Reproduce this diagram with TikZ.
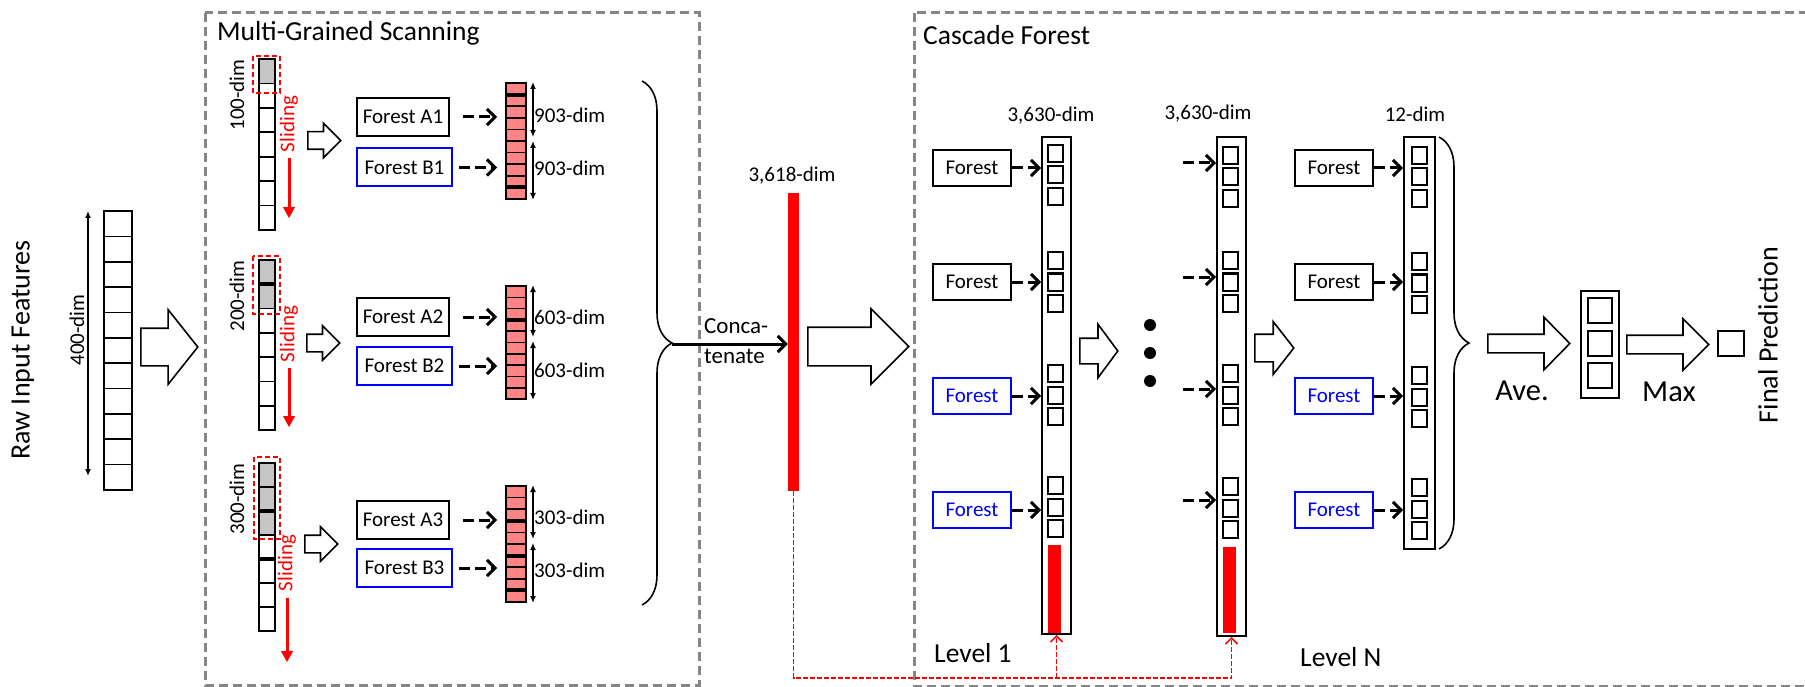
\documentclass[tikz,border=0pt]{standalone}
\usepackage{fontspec}
\setmainfont{Carlito}
\usetikzlibrary{positioning,arrows.meta,shapes.arrows,decorations.pathreplacing,calc}
\definecolor{framegray}{HTML}{858585}
\definecolor{cellgray}{HTML}{C6C6C6}
\definecolor{outpink}{HTML}{FF8585}
\definecolor{forestblue}{HTML}{0000FF}
\newcommand{\fsz}[2]{\fontsize{#1}{#2}\selectfont}
\tikzset{
  scanframe/.style={draw=framegray,line width=3pt,dash pattern=on 9pt off 5pt},
  ttl/.style      ={font=\fsz{27.5}{33},inner sep=0pt},
  lbl/.style      ={font=\fsz{21}{25},inner sep=0pt},
  vlbl/.style     ={lbl,rotate=90},
  forA/.style     ={draw,line width=2pt,minimum width=92pt,minimum height=38pt,inner sep=0pt,font=\fsz{21}{25}},
  forB/.style     ={forA,draw=forestblue,minimum width=95pt},
  forC/.style     ={forA,minimum width=78pt,minimum height=36pt},
  forD/.style     ={forC,draw=forestblue,text=forestblue},
  vec/.style      ={draw,line width=2pt,inner sep=0pt},
  cellbox/.style  ={draw,line width=1.6pt},
  thk/.style      ={draw,line width=4pt},
  window/.style   ={draw=red,line width=1.5pt,dash pattern=on 5pt off 3pt},
  slide/.style    ={red,line width=3pt,-{Triangle[length=11pt,width=11pt]}},
  darr/.style     ={line width=3pt,dash pattern=on 11pt off 5pt,-{Straight Barb[length=8pt,width=16pt]}},
  dimarr/.style   ={line width=1.4pt,{Latex[length=7pt,width=6pt]}-{Latex[length=7pt,width=6pt]}},
  fatarr/.style n args={4}{shape=single arrow,draw,line width=1.6pt,inner xsep=0pt,inner ysep=#2,
                   single arrow head extend=#3,single arrow tip angle=#4,minimum height=#1,anchor=tail},
  sqcell/.style   ={draw,line width=2pt,minimum width=15pt,minimum height=17pt,inner sep=0pt},
  ellip/.style    ={circle,fill,inner sep=0pt,minimum size=12pt},
  fback/.style    ={red,line width=1.5pt,dash pattern=on 5pt off 2pt},
  brc/.style      ={decorate,decoration={brace,amplitude=30pt},line width=1.6pt},
}

\begin{document}
\begin{tikzpicture}[x=1pt,y=-1pt]
  \useasboundingbox (0,0) rectangle (1805,687);

  % raw input
  \node[ttl,rotate=90,font=\fsz{28}{33}] (rawlbl) at (23,350) {Raw Input Features};
  \node[vec,minimum width=28pt,minimum height=279pt] (raw) at (118,350.5) {};
  \foreach \k in {1,...,10} \draw[cellbox] (104,{211+25.36*\k}) -- (132,{211+25.36*\k});
  \draw[dimarr] ([xshift=-15pt,yshift=-1pt]raw.north west) -- ([xshift=-15pt,yshift=15pt]raw.south west);
  \node[vlbl] (rawdim) at (77,330) {400-dim};
  \node[fatarr={57pt}{18pt}{18.5pt}{103}] (in2ms) at (140,347) {};

  % multi-grained scanning
  \draw[scanframe] (205,13) rectangle (699,685);
  \node[ttl,anchor=west] (mstitle) at (217,33) {Multi-Grained Scanning};

  \fill[cellgray] (259,59) rectangle (275,83.4);
  \node[vec,minimum width=16pt,minimum height=171pt] (s1) at (267,144.5) {};
  \foreach \k in {1,...,6} \draw[cellbox] (259,{59+24.43*\k}) -- (275,{59+24.43*\k});
  \draw[window] (253,56) rectangle (280,93);

  \fill[cellgray] (259,260) rectangle (275,308.6);
  \node[vec,minimum width=16pt,minimum height=170pt] (s2) at (267,345) {};
  \foreach \k in {1,...,6} \draw[cellbox] (259,{260+24.29*\k}) -- (275,{260+24.29*\k});
  \draw[thk] (259,284.3) -- (275,284.3);
  \draw[window] (253,256) rectangle (280,314);

  \fill[cellgray] (259,463) rectangle (275,535);
  \node[vec,minimum width=16pt,minimum height=168pt] (s3) at (267,547) {};
  \foreach \k in {1,...,6} \draw[cellbox] (259,{463+24*\k}) -- (275,{463+24*\k});
  \draw[thk] (259,511) -- (275,511);
  \draw[thk] (259,559) -- (275,559);
  \draw[window] (254,457) rectangle (280,539);

  \node[vlbl] (w1) at (237,95) {100-dim};
  \node[vlbl] (w2) at (237,296) {200-dim};
  \node[vlbl] (w3) at (237,499) {300-dim};
  \node[vlbl,text=red] (sl1) at (289,124) {Sliding};
  \node[vlbl,text=red] (sl2) at (289,334) {Sliding};
  \node[vlbl,text=red] (sl3) at (287,563) {Sliding};
  \draw[slide] ([yshift=-6pt]sl1.west) -- ++(0,60);
  \draw[slide] ([yshift=-6pt]sl2.west) -- ++(0,59);
  \draw[slide] ([yshift=-7pt]sl3.west) -- ++(0,64);

  \node[fatarr={33pt}{8pt}{8.5pt}{90}] (sa1) at (307,140.5) {};
  \node[fatarr={33pt}{8pt}{8.5pt}{90}] (sa2) at (306,343) {};
  \node[fatarr={33pt}{8pt}{8.5pt}{90}] (sa3) at (304,544) {};

  \node[forA] (fa1) at (403,117)   {Forest A1};
  \node[forB] (fb1) at (404.5,167.5) {Forest B1};
  \node[forA] (fa2) at (403,317)   {Forest A2};
  \node[forB] (fb2) at (404.5,366) {Forest B2};
  \node[forA] (fa3) at (403,520)   {Forest A3};
  \node[forB] (fb3) at (404.5,568) {Forest B3};

  \node[vec,fill=outpink,minimum width=20pt,minimum height=116pt] (o1) at (516,141) {};
  \foreach \k in {1,...,9} \draw[cellbox] (506,{83+11.6*\k}) -- (526,{83+11.6*\k});
  \foreach \k in {1,9} \draw[thk] (506,{83+11.6*\k}) -- (526,{83+11.6*\k});
  \node[vec,fill=outpink,minimum width=20pt,minimum height=113pt] (o2) at (516,342.5) {};
  \foreach \k in {1,...,9} \draw[cellbox] (506,{286+11.3*\k}) -- (526,{286+11.3*\k});
  \draw[thk] (506,{286+11.3*3}) -- (526,{286+11.3*3});
  \node[vec,fill=outpink,minimum width=20pt,minimum height=116pt] (o3) at (516,544) {};
  \foreach \k in {1,...,9} \draw[cellbox] (506,{486+11.6*\k}) -- (526,{486+11.6*\k});
  \foreach \k in {3,6,9} \draw[thk] (506,{486+11.6*\k}) -- (526,{486+11.6*\k});

  \draw[darr,shorten <=13pt,shorten >=8pt] (fa1.east) -- (fa1.east -| o1.west);
  \draw[darr,shorten <=6pt,shorten >=8pt]  (fb1.east) -- (fb1.east -| o1.west);
  \draw[darr,shorten <=13pt,shorten >=8pt] (fa2.east) -- (fa2.east -| o2.west);
  \draw[darr,shorten <=6pt,shorten >=8pt]  (fb2.east) -- (fb2.east -| o2.west);
  \draw[darr,shorten <=13pt,shorten >=8pt] (fa3.east) -- (fa3.east -| o3.west);
  \draw[darr,shorten <=6pt,shorten >=8pt]  (fb3.east) -- (fb3.east -| o3.west);

  \draw[dimarr] ([xshift=6pt]o1.north east) -- ([xshift=6pt,yshift=-55pt]o1.north east);
  \draw[dimarr] ([xshift=6pt,yshift=-59pt]o1.north east) -- ([xshift=6pt]o1.south east);
  \draw[dimarr] ([xshift=6pt]o2.north east) -- ([xshift=6pt,yshift=-52pt]o2.north east);
  \draw[dimarr] ([xshift=6pt,yshift=-56pt]o2.north east) -- ([xshift=6pt]o2.south east);
  \draw[dimarr] ([xshift=6pt]o3.north east) -- ([xshift=6pt,yshift=-54pt]o3.north east);
  \draw[dimarr] ([xshift=6pt,yshift=-58pt]o3.north east) -- ([xshift=6pt]o3.south east);
  \node[lbl,anchor=west] (d1a) at (534,115) {903-dim};
  \node[lbl,anchor=west] (d1b) at (534,168) {903-dim};
  \node[lbl,anchor=west] (d2a) at (534,317) {603-dim};
  \node[lbl,anchor=west] (d2b) at (534,370) {603-dim};
  \node[lbl,anchor=west] (d3a) at (534,517) {303-dim};
  \node[lbl,anchor=west] (d3b) at (534,570) {303-dim};

  % concatenation
  \draw[brc] (642,81) -- (642,605);
  \coordinate (msout) at (672,344);
  \node[fill=red,minimum width=11pt,minimum height=298pt,inner sep=0pt] (cat) at (793.5,342) {};
  \node[lbl] (catdim) at (792,176) {3,618-dim};
  \draw[line width=3pt,-{Straight Barb[length=8pt,width=16pt]}] (msout) -- (msout -| cat.west);
  \node[font=\fsz{23}{30},align=left,anchor=west,inner sep=0pt] (catlbl) at (704,341) {Conca-\\tenate};
  \node[fatarr={101pt}{18.5pt}{18.5pt}{90}] (cat2cf) at (807,346.5) {};

  % cascade forest
  \draw[scanframe] (914,13) rectangle (1815,686);
  \node[ttl,anchor=west] (cftitle) at (923,35) {Cascade Forest};

  \node[fill=red,minimum width=13pt,minimum height=88pt,inner sep=0pt] (r1) at (1054.5,589) {};
  \node[vec,minimum width=29pt,minimum height=497pt] (lv1) at (1056.5,385.5) {};
  \foreach \g in {145,252,365,477} \foreach \j in {0,1,2}
    \node[sqcell] (a\g\j) at (1055,{\g+8.5+21.5*\j}) {};
  \node[lbl] (lv1dim) at (1051,116) {3,630-dim};

  \node[forC] (c11) at (972,168) {Forest};
  \node[forC] (c12) at (972,282) {Forest};
  \node[forD] (c13) at (972,396) {Forest};
  \node[forD] (c14) at (972,510) {Forest};
  \foreach \n in {c11,c12,c13,c14} \draw[darr] (\n.east) -- (\n.east -| lv1.west);

  \node[fatarr={38pt}{12pt}{14pt}{107}] (lv1a) at (1079,351) {};
  \node[ellip] (e1) at (1150,325) {};
  \node[ellip] (e2) at (1150,353) {};
  \node[ellip] (e3) at (1150,381) {};

  \node[fill=red,minimum width=13pt,minimum height=86pt,inner sep=0pt] (rN) at (1229.5,590) {};
  \node[vec,minimum width=29pt,minimum height=499pt] (lvN) at (1231.5,386.5) {};
  \foreach \g in {147,252,365,478} \foreach \j in {0,1,2}
    \node[sqcell] (b\g\j) at (1230,{\g+8.5+21.5*\j}) {};
  \node[lbl] (lvNdim) at (1208,114) {3,630-dim};
  \foreach \y [count=\i] in {163,277,389,500} {
    \coordinate (inN\i) at (1183,\y);
    \draw[darr] (inN\i) -- (inN\i -| lvN.west);
  }

  \node[fatarr={39pt}{13pt}{12.5pt}{104}] (lvNa) at (1254,348) {};

  \node[forC] (c31) at (1334,168) {Forest};
  \node[forC] (c32) at (1334,282) {Forest};
  \node[forD] (c33) at (1334,396) {Forest};
  \node[forD] (c34) at (1334,510) {Forest};
  \node[vec,minimum width=31pt,minimum height=412pt] (lvo) at (1419.5,343) {};
  \foreach \g in {147,253,367,479} \foreach \j in {0,1,2}
    \node[sqcell] (o\g\j) at (1419.5,{\g+8.5+21.5*\j}) {};
  \node[lbl] (lvodim) at (1415,114) {12-dim};
  \foreach \n in {c31,c32,c33,c34} \draw[darr] (\n.east) -- (\n.east -| lvo.west);

  \node[ttl,anchor=west] (lvl1) at (934,653) {Level 1};
  \node[ttl,anchor=west] (lvlN) at (1300,657) {Level N};

  % feedback of the concatenated vector
  \coordinate (fb) at (0,678);
  \draw[fback,-{Straight Barb[length=6pt,width=12pt]}] (cat.south) |- (lvN.south |- fb) -- (lvN.south);
  \draw[fback,-{Straight Barb[length=6pt,width=12pt]}] (lv1.south |- fb) -- (lv1.south);

  % averaging and prediction
  \draw[brc] (1439,137) -- (1439,549);
  \node[fatarr={82pt}{8.5pt}{17pt}{91}] (avearr) at (1487,343.5) {};
  \node[font=\fsz{30.5}{36},inner sep=0pt] (avelbl) at (1522,391) {Ave.};
  \node[vec,minimum width=38pt,minimum height=107pt] (avg) at (1600,344.5) {};
  \foreach \y [count=\i] in {310.5,343.5,375.5}
    \node[vec,minimum width=24pt,minimum height=25pt] (avg\i) at (1600,\y) {};
  \node[fatarr={82pt}{8.5pt}{16.5pt}{90}] (maxarr) at (1626,344.5) {};
  \node[font=\fsz{30.5}{36},inner sep=0pt] (maxlbl) at (1669,392) {Max};
  \node[vec,minimum width=26pt,minimum height=25pt] (pred) at (1731,343.5) {};
  \node[ttl,rotate=90,font=\fsz{28}{33}] (predlbl) at (1768,335) {Final Prediction};
\end{tikzpicture}
\end{document}
